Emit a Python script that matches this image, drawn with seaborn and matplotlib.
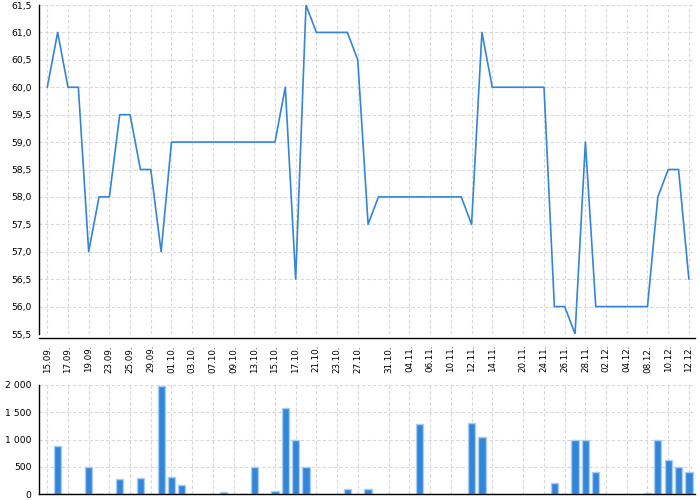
import matplotlib
matplotlib.use('Agg')
import matplotlib.pyplot as plt
from matplotlib.ticker import FuncFormatter
import seaborn as sns
import pandas as pd

# trading days 15.09. - 12.12. (28.10. and 17.11. are holidays)
dates = ['15.09.', '16.09.', '17.09.', '18.09.', '19.09.', '22.09.', '23.09.', '24.09.', '25.09.', '26.09.',
         '29.09.', '30.09.', '01.10.', '02.10.', '03.10.', '06.10.', '07.10.', '08.10.', '09.10.', '10.10.',
         '13.10.', '14.10.', '15.10.', '16.10.', '17.10.', '20.10.', '21.10.', '22.10.', '23.10.', '24.10.',
         '27.10.', '29.10.', '30.10.', '31.10.', '03.11.', '04.11.', '05.11.', '06.11.', '07.11.', '10.11.',
         '11.11.', '12.11.', '13.11.', '14.11.', '18.11.', '19.11.', '20.11.', '21.11.', '24.11.', '25.11.',
         '26.11.', '27.11.', '28.11.', '01.12.', '02.12.', '03.12.', '04.12.', '05.12.', '08.12.', '09.12.',
         '10.12.', '11.12.', '12.12.']

price = [60.0, 61.0, 60.0, 60.0, 57.0, 58.0, 58.0, 59.5, 59.5, 58.5,
         58.5, 57.0, 59.0, 59.0, 59.0, 59.0, 59.0, 59.0, 59.0, 59.0,
         59.0, 59.0, 59.0, 60.0, 56.5, 61.5, 61.0, 61.0, 61.0, 61.0,
         60.5, 57.5, 58.0, 58.0, 58.0, 58.0, 58.0, 58.0, 58.0, 58.0,
         58.0, 57.5, 61.0, 60.0, 60.0, 60.0, 60.0, 60.0, 60.0, 56.0,
         56.0, 55.5, 59.0, 56.0, 56.0, 56.0, 56.0, 56.0, 56.0, 58.0,
         58.5, 58.5, 56.5]

volume = [0, 875, 0, 0, 500, 0, 0, 275, 0, 285,
          0, 1985, 320, 165, 0, 0, 0, 30, 0, 0,
          500, 0, 60, 1580, 1000, 500, 0, 0, 0, 100,
          0, 100, 0, 0, 0, 0, 1290, 0, 0, 0,
          0, 1300, 1050, 0, 0, 0, 0, 0, 0, 200,
          0, 1000, 1000, 400, 0, 0, 0, 0, 20, 1000,
          625, 500, 400]

tick_labels = ['15.09.', '17.09.', '19.09.', '23.09.', '25.09.', '29.09.', '01.10.', '03.10.', '07.10.',
               '09.10.', '13.10.', '15.10.', '17.10.', '21.10.', '23.10.', '27.10.', '31.10.', '04.11.',
               '06.11.', '10.11.', '12.11.', '14.11.', '20.11.', '24.11.', '26.11.', '28.11.', '02.12.',
               '04.12.', '08.12.', '10.12.', '12.12.']

df = pd.DataFrame({'day': range(len(dates)), 'date': dates, 'price': price, 'volume': volume})
tick_pos = [dates.index(t) for t in tick_labels]

blue = '#3385d8'
grid_kw = dict(color='#d8d8d8', linestyle=(0, (3, 2)), linewidth=0.8)

sns.set_style('white')
plt.rcParams['font.family'] = ['DejaVu Sans']

fig = plt.figure(figsize=(7, 5), dpi=100)
ax1 = fig.add_axes([0.055, 0.332, 0.938, 0.658])
ax2 = fig.add_axes([0.055, 0.012, 0.938, 0.218])

# price line
sns.lineplot(data=df, x='day', y='price', ax=ax1, color=blue, linewidth=1.2)
ax1.set_xlim(-0.85, len(dates) - 0.4)
ax1.set_ylim(55.5, 61.5)
ax1.set_yticks([55.5 + 0.5 * k for k in range(13)])
ax1.yaxis.set_major_formatter(FuncFormatter(lambda v, p: f'{v:.1f}'.replace('.', ',')))
ax1.set_xticks(tick_pos)
ax1.set_xticklabels(tick_labels)
ax1.grid(True, **grid_kw)
ax1.spines['top'].set_visible(False)
ax1.spines['right'].set_visible(False)
ax1.spines['bottom'].set_position(('outward', 3))
ax1.set_xlabel('')
ax1.set_ylabel('')

# volume bars
sns.barplot(data=df, x='day', y='volume', ax=ax2, color=blue, width=0.7,
            edgecolor='#a9cdf2', linewidth=1, saturation=1)
ax2.set_xlim(-0.85, len(dates) - 0.4)
ax2.set_ylim(0, 2000)
ax2.set_yticks([0, 500, 1000, 1500, 2000])
ax2.yaxis.set_major_formatter(FuncFormatter(lambda v, p: f'{int(v):,}'.replace(',', ' ')))
ax2.set_xticks(tick_pos)
ax2.set_xticklabels([])
ax2.grid(True, **grid_kw)
ax2.set_axisbelow(True)
ax2.spines['top'].set_visible(False)
ax2.spines['right'].set_visible(False)
ax2.set_xlabel('')
ax2.set_ylabel('')

for ax in (ax1, ax2):
    ax.tick_params(axis='y', labelsize=6.7, colors='black', direction='out', length=3, width=0.8, pad=2)
    for s in ('left', 'bottom'):
        ax.spines[s].set_color('black')
        ax.spines[s].set_linewidth(1)
ax1.tick_params(axis='x', labelsize=6.3, labelrotation=90, colors='black', direction='out',
                length=3, width=0.8, pad=2)
ax2.tick_params(axis='x', length=0)

fig.savefig('out.png', dpi=100)
